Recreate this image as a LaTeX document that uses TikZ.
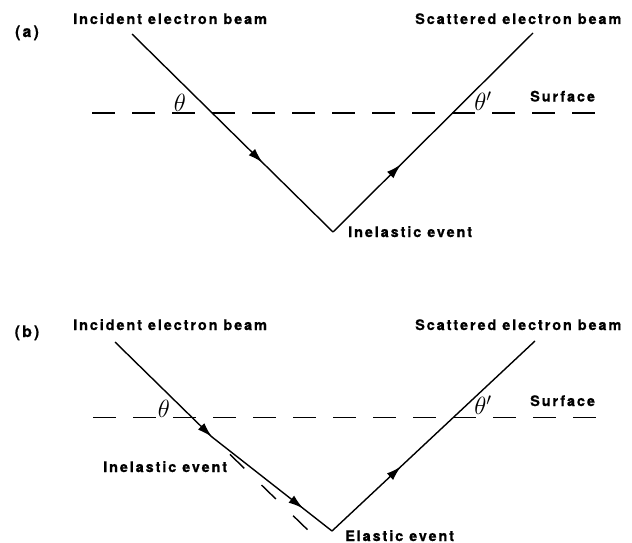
\documentclass[tikz,border=0pt]{standalone}
\usepackage{fontspec}
\setmainfont{TeX Gyre Heros}
\newfontfamily\lblfont[LetterSpace=13, BoldFeatures={FakeBold=0.6}]{TeX Gyre Heros}
\usetikzlibrary{arrows.meta,decorations.markings}

\begin{document}
\begin{tikzpicture}[x=1pt, y=-1pt,
  beam/.style={line width=1.4pt},
  surf/.style={line width=1.1pt, dash pattern=on 23pt off 17pt},
  lbl/.style={font=\lblfont\bfseries\fontsize{14.5}{16}\selectfont, inner sep=0pt, anchor=base west},
  tag/.style={font=\lblfont\bfseries\fontsize{16}{18}\selectfont, inner sep=0pt, anchor=base},
  ang/.style={font=\fontsize{24}{25}\selectfont, inner sep=0pt},
  midarrow/.style={postaction={decorate}, decoration={markings,
    mark=at position #1 with {\arrow{Latex[length=15pt,width=9pt]}}}}
]
  \useasboundingbox (0,0) rectangle (632,543);

  % (a) one inelastic event
  \node[tag] (tagA) at (27,37) {(a)};
  \node[lbl] (incA) at (73,24) {Incident electron beam};
  \node[lbl] (scatA) at (415,24) {Scattered electron beam};
  \coordinate (inA) at (132,34);
  \coordinate (hitA) at (333,232);
  \coordinate (outA) at (533,33);
  \coordinate (surfA0) at (92,113);
  \coordinate (surfA1) at (600,113);
  \draw[surf] (surfA0) -- (surfA1);
  \draw[beam, midarrow=0.65] (inA) -- (hitA);
  \draw[beam, midarrow=0.34] (hitA) -- (outA);
  \node[ang] (thA) at (180,103) {$\theta$};
  \node[ang] (thpA) at (483,101) {$\theta'$};
  \node[lbl] (surfLA) at (530,101.5) {Surface};
  \node[lbl] (evA) at (348,237) {Inelastic event};

  % (b) inelastic event, then elastic event
  \node[tag] (tagB) at (27,337) {(b)};
  \node[lbl] (incB) at (73,330) {Incident electron beam};
  \node[lbl] (scatB) at (415,330) {Scattered electron beam};
  \coordinate (inB) at (115,342);
  \coordinate (bendB) at (212,437);
  \coordinate (hitB) at (332,531);
  \coordinate (outB) at (535,341);
  \coordinate (extB) at (313,535);
  \coordinate (surfB0) at (93,417.5);
  \coordinate (surfB1) at (600,417.5);
  \draw[surf] (surfB0) -- (surfB1);
  \draw[beam, midarrow=1] (inB) -- (bendB);
  \draw[beam, dash pattern=on 20pt off 24pt, dash phase=19pt] (bendB) -- (extB);
  \draw[beam, midarrow=0.76] (bendB) -- (hitB);
  \draw[beam, midarrow=0.34] (hitB) -- (outB);
  \node[ang] (thB) at (164,409) {$\theta$};
  \node[ang] (thpB) at (483,405) {$\theta'$};
  \node[lbl] (surfLB) at (530,406) {Surface};
  \node[lbl] (evB1) at (103,472) {Inelastic event};
  \node[lbl] (evB2) at (345,541) {Elastic event};
\end{tikzpicture}
\end{document}
